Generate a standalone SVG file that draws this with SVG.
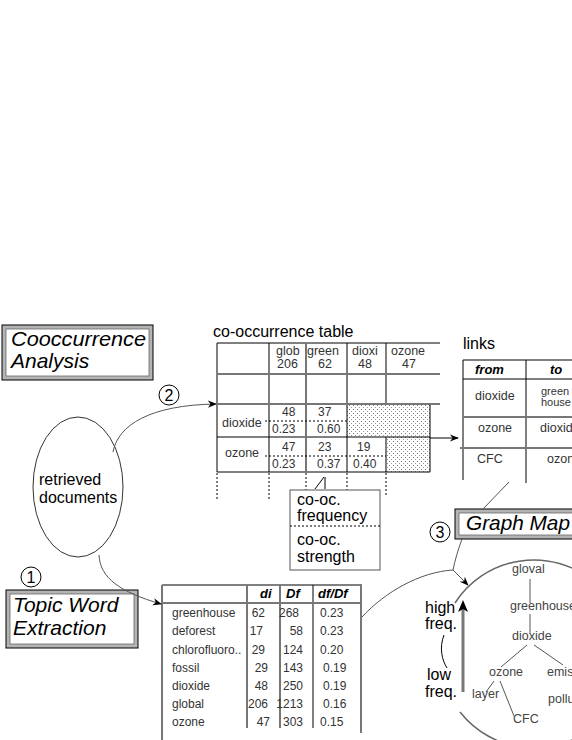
<svg xmlns="http://www.w3.org/2000/svg" width="572" height="740" viewBox="0 0 572 740">
<defs>
<marker id="ah" viewBox="0 0 10 10" refX="9" refY="5" markerWidth="9" markerHeight="9" orient="auto" markerUnits="userSpaceOnUse"><path d="M0,1 L10,5 L0,9 L3,5 Z" fill="#000"/></marker>
<pattern id="dots" width="4" height="4" patternUnits="userSpaceOnUse"><rect x="1" y="1" width="1" height="1" fill="#777"/><rect x="3" y="3" width="1" height="1" fill="#999"/></pattern>
</defs>
<style>
text{font-family:"Liberation Sans",Arial,Helvetica,sans-serif;fill:#222}
.title{font-style:italic;font-size:21px;fill:#000}
.c{font-size:12px;fill:#333}
.h{font-size:12.5px;fill:#333}
.s{font-size:11px;fill:#333}
.hi{font-size:13px;font-style:italic;font-weight:bold;fill:#000}
.lbl{font-size:16px;fill:#000}
.g{font-size:12.5px;fill:#444}
.num{font-size:16px;fill:#000;text-anchor:middle}
.thin{stroke:#000;stroke-width:1;fill:none}
.gray{stroke:#777;stroke-width:2;fill:none}
.dot{stroke:#000;stroke-width:1;stroke-dasharray:2 2;fill:none}
.conn{stroke:#555;stroke-width:1;fill:none}
.band{fill:#fff;stroke:#b4b4b4;stroke-width:4}
.edge{fill:none;stroke:#000;stroke-width:1}
</style>

<g id="cooc-analysis">
<rect class="band" x="4" y="327" width="147" height="51"/>
<rect class="edge" x="2" y="325" width="151" height="55"/>
<rect x="6" y="329" width="143" height="47" fill="none" stroke="#666" stroke-width="0.8"/>
<text class="title" x="11" y="346" textLength="135" lengthAdjust="spacingAndGlyphs">Cooccurrence</text>
<text class="title" x="11" y="368">Analysis</text>
</g>

<g id="topic-extraction">
<rect class="band" x="8" y="592" width="128" height="54"/>
<rect class="edge" x="6" y="590" width="132" height="58"/>
<rect x="10" y="594" width="124" height="50" fill="none" stroke="#666" stroke-width="0.8"/>
<text class="title" x="13" y="612">Topic Word</text>
<text class="title" x="13" y="635">Extraction</text>
</g>

<g id="graph-mapping">
<rect class="band" x="457" y="511" width="130" height="26"/>
<rect class="edge" x="455" y="509" width="134" height="30"/>
<rect x="459" y="513" width="126" height="22" fill="none" stroke="#666" stroke-width="0.8"/>
<text class="title" x="466" y="530" textLength="104" lengthAdjust="spacingAndGlyphs">Graph Map</text>
</g>

<g id="step-numbers">
<circle cx="169" cy="395" r="10" fill="#fff" stroke="#000"/>
<text class="num" x="169" y="401">2</text>
<circle cx="31" cy="577" r="10" fill="#fff" stroke="#000"/>
<text class="num" x="31" y="583">1</text>
<circle cx="440" cy="532" r="10" fill="#fff" stroke="#000"/>
<text class="num" x="440" y="538">3</text>
</g>

<g id="retrieved-documents">
<ellipse cx="78" cy="487" rx="45" ry="70" fill="#fff" stroke="#333"/>
<text class="lbl" x="39" y="485">retrieved</text>
<text class="lbl" x="39" y="503">documents</text>
</g>

<g id="cooccurrence-table">
<text class="lbl" x="213" y="337">co-occurrence table</text>
<rect x="347" y="404" width="83" height="33" fill="url(#dots)"/>
<rect x="386" y="437" width="44" height="35" fill="url(#dots)"/>
<path class="thin" d="M217,343 H440 M217,437 H430 M217,472 H430 M217,343 V472 M269,343 V472 M347,343 V472 M386,343 V404 M386,437 V472 M430,404 V472"/>
<path class="gray" d="M217,374 H440 M217,404 H440 M306,343 V472"/>
<path class="dot" d="M265,421 H347 M265,456 H386 M217,473 V500 M269,473 V500 M306,473 V490 M347,473 V500 M386,473 V497"/>
<text class="h" x="276" y="355">glob</text>
<text class="h" x="277" y="368">206</text>
<text class="h" x="307" y="355">green</text>
<text class="h" x="318" y="368">62</text>
<text class="h" x="352" y="355">dioxi</text>
<text class="h" x="358" y="368">48</text>
<text class="h" x="391" y="355">ozone</text>
<text class="h" x="402" y="368">47</text>
<text class="h" x="222" y="427">dioxide</text>
<text class="h" x="225" y="457">ozone</text>
<text class="c" x="282" y="416">48</text>
<text class="c" x="318" y="416">37</text>
<text class="c" x="272" y="433">0.23</text>
<text class="c" x="317" y="433">0.60</text>
<text class="c" x="282" y="451">47</text>
<text class="c" x="318" y="451">23</text>
<text class="c" x="357" y="451">19</text>
<text class="c" x="272" y="468">0.23</text>
<text class="c" x="317" y="468">0.37</text>
<text class="c" x="353" y="468">0.40</text>
</g>

<g id="cooc-legend">
<rect x="290" y="490" width="90" height="80" fill="#fff" stroke="#555"/>
<path class="dot" d="M290,526 H380"/>
<text class="lbl" x="297" y="505">co-oc.</text>
<text class="lbl" x="297" y="521">frequency</text>
<text class="lbl" x="297" y="545">co-oc.</text>
<text class="lbl" x="297" y="562">strength</text>
</g>

<g id="links-table">
<text class="lbl" x="463" y="349">links</text>
<path class="thin" d="M463,360 H572 M463,379 H572 M463,360 V480 M526,360 V483"/>
<path class="gray" d="M463,417 H572 M460,448 H572"/>
<text class="hi" x="475" y="374">from</text>
<text class="hi" x="550" y="374">to</text>
<text class="h" x="475" y="400">dioxide</text>
<text class="s" x="541" y="395">green</text>
<text class="s" x="541" y="406">house</text>
<text class="h" x="478" y="432">ozone</text>
<text class="h" x="540" y="432">dioxide</text>
<text class="h" x="477" y="463">CFC</text>
<text class="h" x="547" y="463">ozone</text>
</g>

<g id="topic-table">
<path class="thin" d="M162,585 H362 M313,585 V728"/>
<path class="gray" d="M162,603 H362 M162,585 V740 M247,585 V728 M280,585 V728 M361,585 V733"/>
<text class="hi" x="260" y="598">di</text>
<text class="hi" x="286" y="598">Df</text>
<text class="hi" x="318" y="598">df/Df</text>
<text class="c" x="172" y="617">greenhouse</text>
<text class="c" x="172" y="635">deforest</text>
<text class="c" x="172" y="654">chlorofluoro..</text>
<text class="c" x="172" y="672">fossil</text>
<text class="c" x="172" y="690">dioxide</text>
<text class="c" x="172" y="708">global</text>
<text class="c" x="172" y="726">ozone</text>
<g text-anchor="end">
<text class="c" x="265" y="617">62</text>
<text class="c" x="263" y="635">17</text>
<text class="c" x="265" y="654">29</text>
<text class="c" x="268" y="672">29</text>
<text class="c" x="268" y="690">48</text>
<text class="c" x="268" y="708">206</text>
<text class="c" x="270" y="726">47</text>
<text class="c" x="299" y="617">268</text>
<text class="c" x="303" y="635">58</text>
<text class="c" x="303" y="654">124</text>
<text class="c" x="303" y="672">143</text>
<text class="c" x="303" y="690">250</text>
<text class="c" x="303" y="708">1213</text>
<text class="c" x="303" y="726">303</text>
</g>
<text class="c" x="320" y="617">0.23</text>
<text class="c" x="320" y="635">0.23</text>
<text class="c" x="320" y="654">0.20</text>
<text class="c" x="323" y="672">0.19</text>
<text class="c" x="323" y="690">0.19</text>
<text class="c" x="323" y="708">0.16</text>
<text class="c" x="320" y="726">0.15</text>
</g>

<g id="graph-map">
<path d="M455,603 A94,94 0 1 1 460,712" fill="none" stroke="#666" stroke-width="1.5"/>
<path class="conn" d="M530,579 V603 M530,614 V633 M527,645 L501,667 M534,645 L563,665 M494,681 L486,692 M500,681 L514,716"/>
<text class="g" x="512" y="573">gloval</text>
<text class="g" x="510" y="610">greenhouse</text>
<text class="g" x="512" y="640">dioxide</text>
<text class="g" x="489" y="676">ozone</text>
<text class="g" x="547" y="676">emission</text>
<text class="g" x="472" y="698">layer</text>
<text class="g" x="548" y="703">pollution</text>
<text class="g" x="513" y="723">CFC</text>
</g>

<g id="frequency-axis">
<text class="lbl" x="425" y="613">high</text>
<text class="lbl" x="425" y="629">freq.</text>
<text class="lbl" x="427" y="680">low</text>
<text class="lbl" x="425" y="697">freq.</text>
<path class="thin" d="M444,635 C439,648 442,660 447,668"/>
<path d="M463,692 V606" stroke="#777" stroke-width="3" fill="none"/>
<path d="M458,612 L463,600 L468,612 L463,609 Z" fill="#000"/>
</g>

<g id="connectors">
<path class="conn" d="M113,452 C118,425 150,405 216,404" marker-end="url(#ah)"/>
<path class="conn" d="M99,555 C100,578 120,592 161,604" marker-end="url(#ah)"/>
<path class="thin" d="M430,438 L458,438" marker-end="url(#ah)"/>
<path class="conn" d="M362,617 C385,592 420,572 453,570"/>
<path class="conn" d="M453,570 L468,585" marker-end="url(#ah)"/>
<path class="conn" d="M462,539 C458,550 455,560 453,570"/>
<path class="conn" d="M509,482 L483,509"/>
<path class="thin" d="M315,489 L324,477 M325,477 V489"/>
</g>
</svg>
